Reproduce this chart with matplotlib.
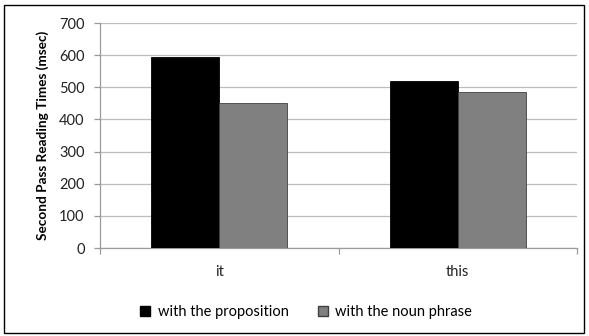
import matplotlib
matplotlib.use("Agg")
import matplotlib.pyplot as plt
from matplotlib.patches import Rectangle, Patch
import numpy as np

categories = ["it", "this"]
proposition = [593, 519]
noun_phrase = [452, 485]
series_names = ["with the proposition", "with the noun phrase"]
y_ticks = [0, 100, 200, 300, 400, 500, 600, 700]

plt.rcParams['font.family'] = ['Lato', 'DejaVu Sans']

fig = plt.figure(figsize=(5.89, 3.36), dpi=100)
ax = fig.add_axes([100/589, 1 - 248/336, 477/589, 225/336])

x = np.arange(len(categories))
w = 0.285
ax.bar(x - w/2, proposition, w, color="black", edgecolor="black", linewidth=0.6, zorder=3)
ax.bar(x + w/2, noun_phrase, w, color="#808080", edgecolor="#404040", linewidth=0.6, zorder=3)

ax.set_xlim(-0.5, len(categories) - 0.5)
ax.set_ylim(0, 700)
ax.set_yticks(y_ticks)
ax.set_yticklabels([str(t) for t in y_ticks], fontsize=10.5, color="#222222")
ax.yaxis.grid(True, color="#bdbdbd", linewidth=0.9, zorder=0)

# category labels with ticks at category boundaries
ax.set_xticks(x)
ax.set_xticklabels(categories, fontsize=10.5, color="#222222")
ax.tick_params(axis="x", length=0, pad=12)
ax.set_xticks(np.arange(len(categories) + 1) - 0.5, minor=True)
ax.tick_params(axis="x", which="minor", length=4, color="#9a9a9a", width=0.9)
ax.tick_params(axis="y", length=4, color="#9a9a9a", width=0.9, pad=7)

for s in ["top", "right"]:
    ax.spines[s].set_visible(False)
for s in ["left", "bottom"]:
    ax.spines[s].set_color("#9a9a9a")
    ax.spines[s].set_linewidth(0.9)

ax.set_ylabel("Second Pass Reading Times (msec)", fontsize=9.8, fontweight="bold", labelpad=7)

handles = [Patch(facecolor="black", edgecolor="black"),
           Patch(facecolor="#808080", edgecolor="#404040")]
fig.legend(handles, series_names, loc="center", bbox_to_anchor=(306/589, 1 - 312/336),
           ncol=2, frameon=False, fontsize=10.5, handlelength=0.7, handleheight=0.7,
           handletextpad=0.5, columnspacing=2.0)

fig.patches.append(Rectangle((4/589, 3/336), 580/589, 328/336, transform=fig.transFigure,
                             fill=False, edgecolor="black", linewidth=1.0))

fig.savefig("out.png", dpi=100)
